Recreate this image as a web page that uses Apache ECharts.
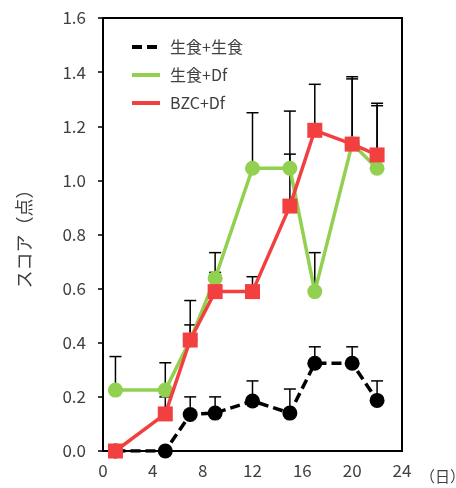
<!DOCTYPE html>
<html><head><meta charset="utf-8">
<script src="https://cdn.jsdelivr.net/npm/echarts@6/dist/echarts.min.js"></script>
<style>html,body{margin:0;padding:0;background:#fff}#c{width:456px;height:488px}</style>
</head><body><div id="c"></div>
<script>
const days = [1, 5, 7, 9, 12, 15, 17, 20, 22];
const seriesNames = ['生食+生食', '生食+Df', 'BZC+Df'];
const blackVals = [0, 0, 0.135, 0.14, 0.185, 0.14, 0.324, 0.324, 0.187];
const blackUpper = [null, null, 0.2, 0.2, 0.259, 0.229, 0.385, 0.385, 0.259];
const greenVals = [0.225, 0.225, 0.41, 0.638, 1.045, 1.045, 0.589, 1.135, 1.045];
const greenUpper = [0.349, 0.326, 0.466, 0.733, 1.25, 1.256, 0.733, 1.383, 1.285];
const redVals = [0, 0.137, 0.41, 0.589, 0.589, 0.905, 1.185, 1.134, 1.094];
const redUpper = [null, 0.2, 0.556, 0.66, 0.644, 1.097, 1.355, 1.375, 1.276];
const xTicks = [0, 4, 8, 12, 16, 20, 24];
const yTicks = [0, 0.2, 0.4, 0.6, 0.8, 1.0, 1.2, 1.4, 1.6];

const FONT = '"Noto Sans CJK JP", "Noto Sans", sans-serif';
const TXT = '#404040';
const colors = ['#000000', '#92D050', '#F24040'];

function pts(vals) { return days.map((d, i) => [d, vals[i]]); }
function errPts(vals, up) {
  const out = [];
  days.forEach((d, i) => { if (up[i] != null) out.push([d, vals[i], up[i]]); });
  return out;
}
function errSeries(vals, up) {
  return {
    type: 'custom', z: 1, silent: true,
    data: errPts(vals, up),
    encode: { x: 0, y: [1, 2] },
    renderItem: function (params, api) {
      const x = api.value(0), v = api.value(1), t = api.value(2);
      const p0 = api.coord([x, v]), p1 = api.coord([x, t]);
      const st = { stroke: '#000', lineWidth: 1.5 };
      return { type: 'group', children: [
        { type: 'line', shape: { x1: p0[0], y1: p0[1], x2: p1[0], y2: p1[1] }, style: st },
        { type: 'line', shape: { x1: p1[0] - 6, y1: p1[1], x2: p1[0] + 6, y2: p1[1] }, style: st }
      ]};
    }
  };
}

const chart = echarts.init(document.getElementById('c'), null, { renderer: 'canvas' });
chart.setOption({
  animation: false,
  grid: { left: 103, right: 54, top: 18, bottom: 37, show: true, borderColor: '#000', borderWidth: 2 },
  legend: {
    orient: 'vertical', left: 125, top: 34, itemWidth: 28, itemHeight: 14, itemGap: 12,
    itemStyle: { opacity: 0 },
    lineStyle: { width: 4 },
    textStyle: { fontFamily: FONT, fontSize: 16, color: TXT, padding: [0, 0, 0, 5] },
    data: seriesNames
  },
  xAxis: {
    type: 'value', min: xTicks[0], max: xTicks[xTicks.length - 1], interval: 4,
    axisLine: { show: true, lineStyle: { color: '#000', width: 2 } },
    axisTick: { show: false },
    splitLine: { show: false },
    axisLabel: { fontFamily: FONT, fontSize: 17, color: TXT, margin: 11 }
  },
  yAxis: {
    type: 'value', min: yTicks[0], max: yTicks[yTicks.length - 1], interval: 0.2,
    name: 'スコア（点）', nameLocation: 'middle', nameGap: 70,
    nameTextStyle: { fontFamily: FONT, fontSize: 18, color: TXT },
    axisLine: { show: true, lineStyle: { color: '#000', width: 2 } },
    axisTick: { show: true, inside: false, length: 5, lineStyle: { color: '#000', width: 1.5 } },
    splitLine: { show: false },
    axisLabel: { fontFamily: FONT, fontSize: 17, color: TXT, margin: 17, formatter: v => v.toFixed(1) }
  },
  graphic: [{ type: 'text', left: 420, top: 469, style: { text: '（日）', font: '15px ' + FONT, fill: TXT } }],
  series: [
    errSeries(blackVals, blackUpper),
    errSeries(greenVals, greenUpper),
    errSeries(redVals, redUpper),
    { name: seriesNames[0], type: 'line', z: 3, data: pts(blackVals), symbol: 'circle', symbolSize: 15,
      itemStyle: { color: colors[0] }, lineStyle: { color: colors[0], width: 3.5, type: [10, 5] } },
    { name: seriesNames[1], type: 'line', z: 4, data: pts(greenVals), symbol: 'circle', symbolSize: 15,
      itemStyle: { color: colors[1] }, lineStyle: { color: colors[1], width: 3.5 } },
    { name: seriesNames[2], type: 'line', z: 5, data: pts(redVals), symbol: 'rect', symbolSize: 15,
      itemStyle: { color: colors[2] }, lineStyle: { color: colors[2], width: 3.5 } }
  ]
});
</script></body></html>
